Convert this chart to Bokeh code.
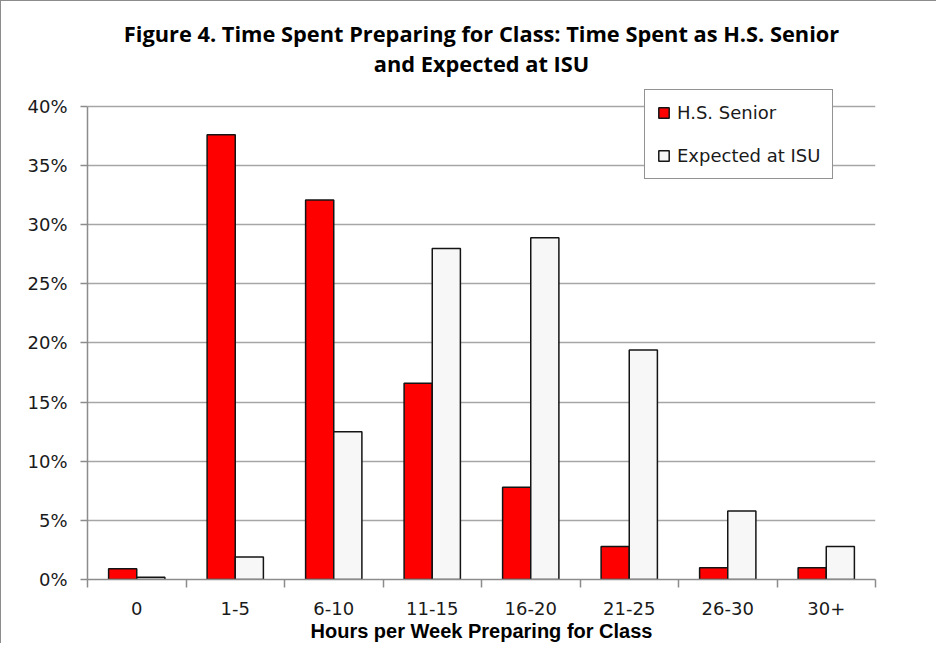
from bokeh.plotting import figure
from bokeh.models import (ColumnDataSource, Range1d, FixedTicker, Title, Legend, LegendItem)
from bokeh.transform import dodge
from bokeh.embed import file_html
from bokeh.resources import INLINE

categories = ["0", "1-5", "6-10", "11-15", "16-20", "21-25", "26-30", "30+"]
hs_senior = [0.9, 37.6, 32.1, 16.6, 7.8, 2.8, 1.0, 1.0]
expected_isu = [0.2, 1.9, 12.5, 28.0, 28.9, 19.4, 5.8, 2.8]
y_ticks = [0, 5, 10, 15, 20, 25, 30, 35, 40]
y_tick_labels = ["0%", "5%", "10%", "15%", "20%", "25%", "30%", "35%", "40%"]
title_line1 = "Figure 4. Time Spent Preparing for Class: Time Spent as H.S. Senior"
title_line2 = "and Expected at ISU"
x_title = "Hours per Week Preparing for Class"
series_names = ["H.S. Senior", "Expected at ISU"]

pos = [i + 0.5 for i in range(len(categories))]
src = ColumnDataSource(dict(pos=pos, cat=categories, hs=hs_senior, isu=expected_isu))

p = figure(width=936, height=643, output_backend="svg", toolbar_location=None,
           title=None, x_range=Range1d(0, len(categories)), y_range=Range1d(0, 41.52),
           min_border_left=86, min_border_right=62, min_border_top=87, min_border_bottom=65)
p.styles = {"border-top": "1px solid #8c8c8c", "border-left": "1px solid #8c8c8c"}
p.outline_line_color = None
p.background_fill_color = "white"
p.border_fill_color = "white"

t2 = Title(text=title_line2, align="center", text_font="Open Sans", text_font_size="21.8px",
           text_font_style="bold", text_color="black", standoff=22)
t1 = Title(text=title_line1, align="center", text_font="Open Sans", text_font_size="21.8px",
           text_font_style="bold", text_color="black", standoff=-24)
p.add_layout(t2, "above")
p.add_layout(t1, "above")

bw = 0.2857
r1 = p.vbar(x=dodge("pos", -bw / 2), top="hs", width=bw, source=src,
            fill_color="#ff0000", line_color="#141414", line_width=1.5)
r2 = p.vbar(x=dodge("pos", bw / 2), top="isu", width=bw, source=src,
            fill_color="#f7f7f7", line_color="#141414", line_width=1.5)

# x axis: labels at category centers, tick marks between categories
xa = p.xaxis[0]
xa.ticker = FixedTicker(ticks=pos, minor_ticks=list(range(len(categories) + 1)))
xa.major_label_overrides = {p_: c for p_, c in zip(pos, categories)}
xa.major_tick_out = 0
xa.major_tick_in = 0
xa.minor_tick_out = 8
xa.minor_tick_in = 0
xa.minor_tick_line_color = "#8c8c8c"
xa.minor_tick_line_width = 1.5
xa.axis_line_color = "#8c8c8c"
xa.axis_line_width = 1.5
xa.major_label_text_font = "DejaVu Sans"
xa.major_label_text_font_size = "18px"
xa.major_label_text_color = "#1a1a1a"
xa.major_label_standoff = 14
xa.axis_label = x_title
xa.axis_label_text_font = "Liberation Sans"
xa.axis_label_text_font_size = "20px"
xa.axis_label_text_font_style = "bold"
xa.axis_label_text_color = "black"
xa.axis_label_standoff = 2

ya = p.yaxis[0]
ya.ticker = FixedTicker(ticks=y_ticks)
ya.bounds = (y_ticks[0], y_ticks[-1])
ya.major_label_overrides = {t: l for t, l in zip(y_ticks, y_tick_labels)}
ya.minor_tick_line_color = None
ya.major_tick_out = 7
ya.major_tick_in = 0
ya.major_tick_line_color = "#8c8c8c"
ya.major_tick_line_width = 1.5
ya.axis_line_color = "#8c8c8c"
ya.axis_line_width = 1.5
ya.major_label_text_font = "DejaVu Sans"
ya.major_label_text_font_size = "18px"
ya.major_label_text_color = "#1a1a1a"
ya.major_label_standoff = 13

p.xgrid.grid_line_color = None
p.ygrid.ticker = FixedTicker(ticks=y_ticks)
p.ygrid.grid_line_color = "#a6a6a6"
p.ygrid.grid_line_width = 1.5

legend = Legend(items=[LegendItem(label=series_names[0], renderers=[r1]),
                       LegendItem(label=series_names[1], renderers=[r2])],
                location=(557, 400), orientation="vertical",
                label_text_font="DejaVu Sans", label_text_font_size="18px",
                label_text_color="#1a1a1a", glyph_width=13, glyph_height=13,
                label_height=20, label_standoff=7, spacing=22, padding=12, margin=0,
                border_line_color="#262626", border_line_width=1.5,
                background_fill_color="white", background_fill_alpha=1.0)
p.add_layout(legend, "center")

open("out.html", "w").write(file_html(p, INLINE))
